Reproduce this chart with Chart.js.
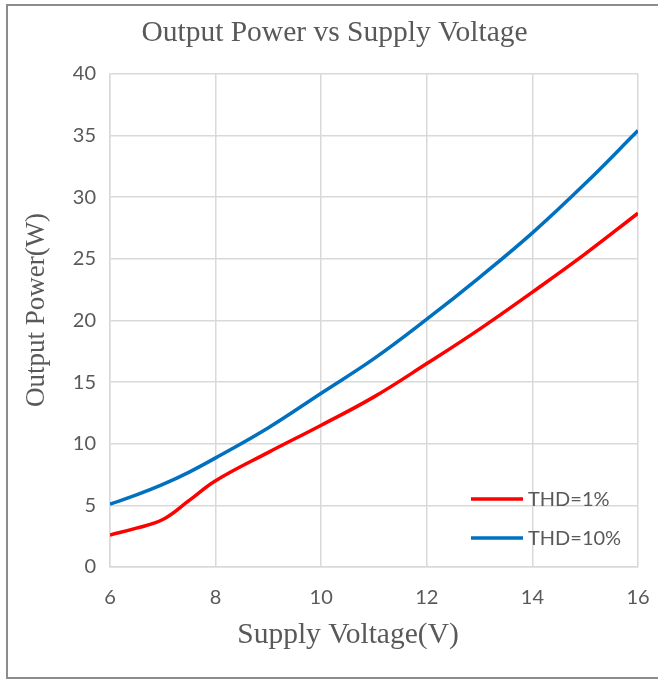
<!DOCTYPE html>
<html>
<head>
<meta charset="utf-8">
<script src="https://cdn.jsdelivr.net/npm/chart.js@4"></script>
<style>
  html, body { margin: 0; padding: 0; background: #fff; }
  #wrap { width: 658px; height: 680px; }
</style>
</head>
<body>
<div id="wrap"><canvas id="canvas" width="658" height="680"></canvas></div>
<script>
// values
var voltage = [6, 6.5, 7, 7.5, 8, 9, 10, 11, 12, 13, 14, 15, 16]
var thd1 = [2.6, 3.15, 3.85, 5.4, 7.0, 9.3, 11.5, 13.8, 16.5, 19.3, 22.3, 25.4, 28.7]
var thd10 = [5.1, 5.85, 6.7, 7.7, 8.85, 11.3, 14.1, 16.9, 20.1, 23.5, 27.1, 31.1, 35.4]
var seriesNames = ["THD=1%", "THD=10%"]
var xTitle = "Supply Voltage(V)"
var yTitle = "Output Power(W)"

var textGray = "#595959"
var gridGray = "#d9d9d9"

const toPoints = (ys) => voltage.map((x, i) => ({ x: x, y: ys[i] }))

// white background + frame round the whole picture, like the pasted image
const framePlugin = {
    id: 'frame',
    beforeDraw: (chart) => {
        const { ctx } = chart
        ctx.save()
        ctx.fillStyle = '#ffffff'
        ctx.fillRect(0, 0, chart.width, chart.height)
        ctx.strokeStyle = '#8c8c8c'
        ctx.lineWidth = 2
        ctx.strokeRect(7, 5, chart.width + 20, chart.height - 7)
        ctx.restore()
    }
}

// axis titles sit a bit off the plot centre in the original, so draw them here
const axisTitles = {
    id: 'axisTitles',
    afterDraw: (chart) => {
        const { ctx } = chart
        ctx.save()
        ctx.fillStyle = textGray
        ctx.textAlign = 'center'
        ctx.font = '29.5px "Liberation Serif"'
        ctx.textBaseline = 'alphabetic'
        ctx.fillText(xTitle, 348, 643)

        ctx.font = '27px "Liberation Serif"'
        ctx.textBaseline = 'middle'
        ctx.translate(37, 310)
        ctx.rotate(-Math.PI / 2)
        ctx.fillText(yTitle, 0, 0)
        ctx.restore()
    }
}

// legend drawn inside the plot, bottom right
const insideLegend = {
    id: 'insideLegend',
    afterDraw: (chart) => {
        const { ctx, chartArea } = chart
        ctx.save()
        ctx.font = '20px Lato'
        ctx.textBaseline = 'middle'
        chart.data.datasets.forEach((ds, i) => {
            var y = chartArea.bottom - 68 + i * 39
            ctx.strokeStyle = ds.borderColor
            ctx.lineWidth = 3.5
            ctx.beginPath()
            ctx.moveTo(chartArea.right - 167, y)
            ctx.lineTo(chartArea.right - 115, y)
            ctx.stroke()
            ctx.fillStyle = textGray
            ctx.fillText(ds.label, chartArea.right - 110, y + 1)
        })
        ctx.restore()
    }
}

var chart = new Chart(document.getElementById("canvas"), {
    type: 'line',
    data: {
        datasets: [
            {
                label: seriesNames[0],
                data: toPoints(thd1),
                borderColor: "#ff0000",
                borderWidth: 3.5,
                pointRadius: 0,
                tension: 0.4,
                fill: false
            },
            {
                label: seriesNames[1],
                data: toPoints(thd10),
                borderColor: "#0070c0",
                borderWidth: 3.5,
                pointRadius: 0,
                tension: 0.4,
                fill: false
            }
        ]
    },
    options: {
        responsive: false,
        animation: false,
        layout: { padding: { left: 31, right: 20, top: 0, bottom: 0 } },
        plugins: {
            legend: { display: false },
            tooltip: { enabled: false },
            title: {
                display: true,
                text: 'Output Power vs Supply Voltage',
                color: textGray,
                font: { family: 'Liberation Serif', size: 29.5, weight: 'normal' },
                padding: { top: 16, bottom: 22.5 }
            }
        },
        scales: {
            x: {
                type: 'linear',
                min: 6,
                max: 16,
                ticks: {
                    stepSize: 2,
                    color: textGray,
                    padding: 19,
                    font: { family: 'Lato', size: 20 }
                },
                grid: { color: gridGray, lineWidth: 1.5, drawTicks: false },
                border: { color: gridGray, width: 1.5 },
                afterFit: (scale) => {
                    scale.height = 113
                    scale.paddingLeft = 0
                    scale.paddingRight = 0
                }
            },
            y: {
                min: 0,
                max: 40,
                ticks: {
                    stepSize: 5,
                    color: textGray,
                    padding: 14,
                    font: { family: 'Lato', size: 20 }
                },
                grid: { color: gridGray, lineWidth: 1.5, drawTicks: false },
                border: { color: gridGray, width: 1.5 },
                afterFit: (scale) => { scale.width = 79 }
            }
        }
    },
    plugins: [framePlugin, axisTitles, insideLegend]
});
</script>
</body>
</html>
